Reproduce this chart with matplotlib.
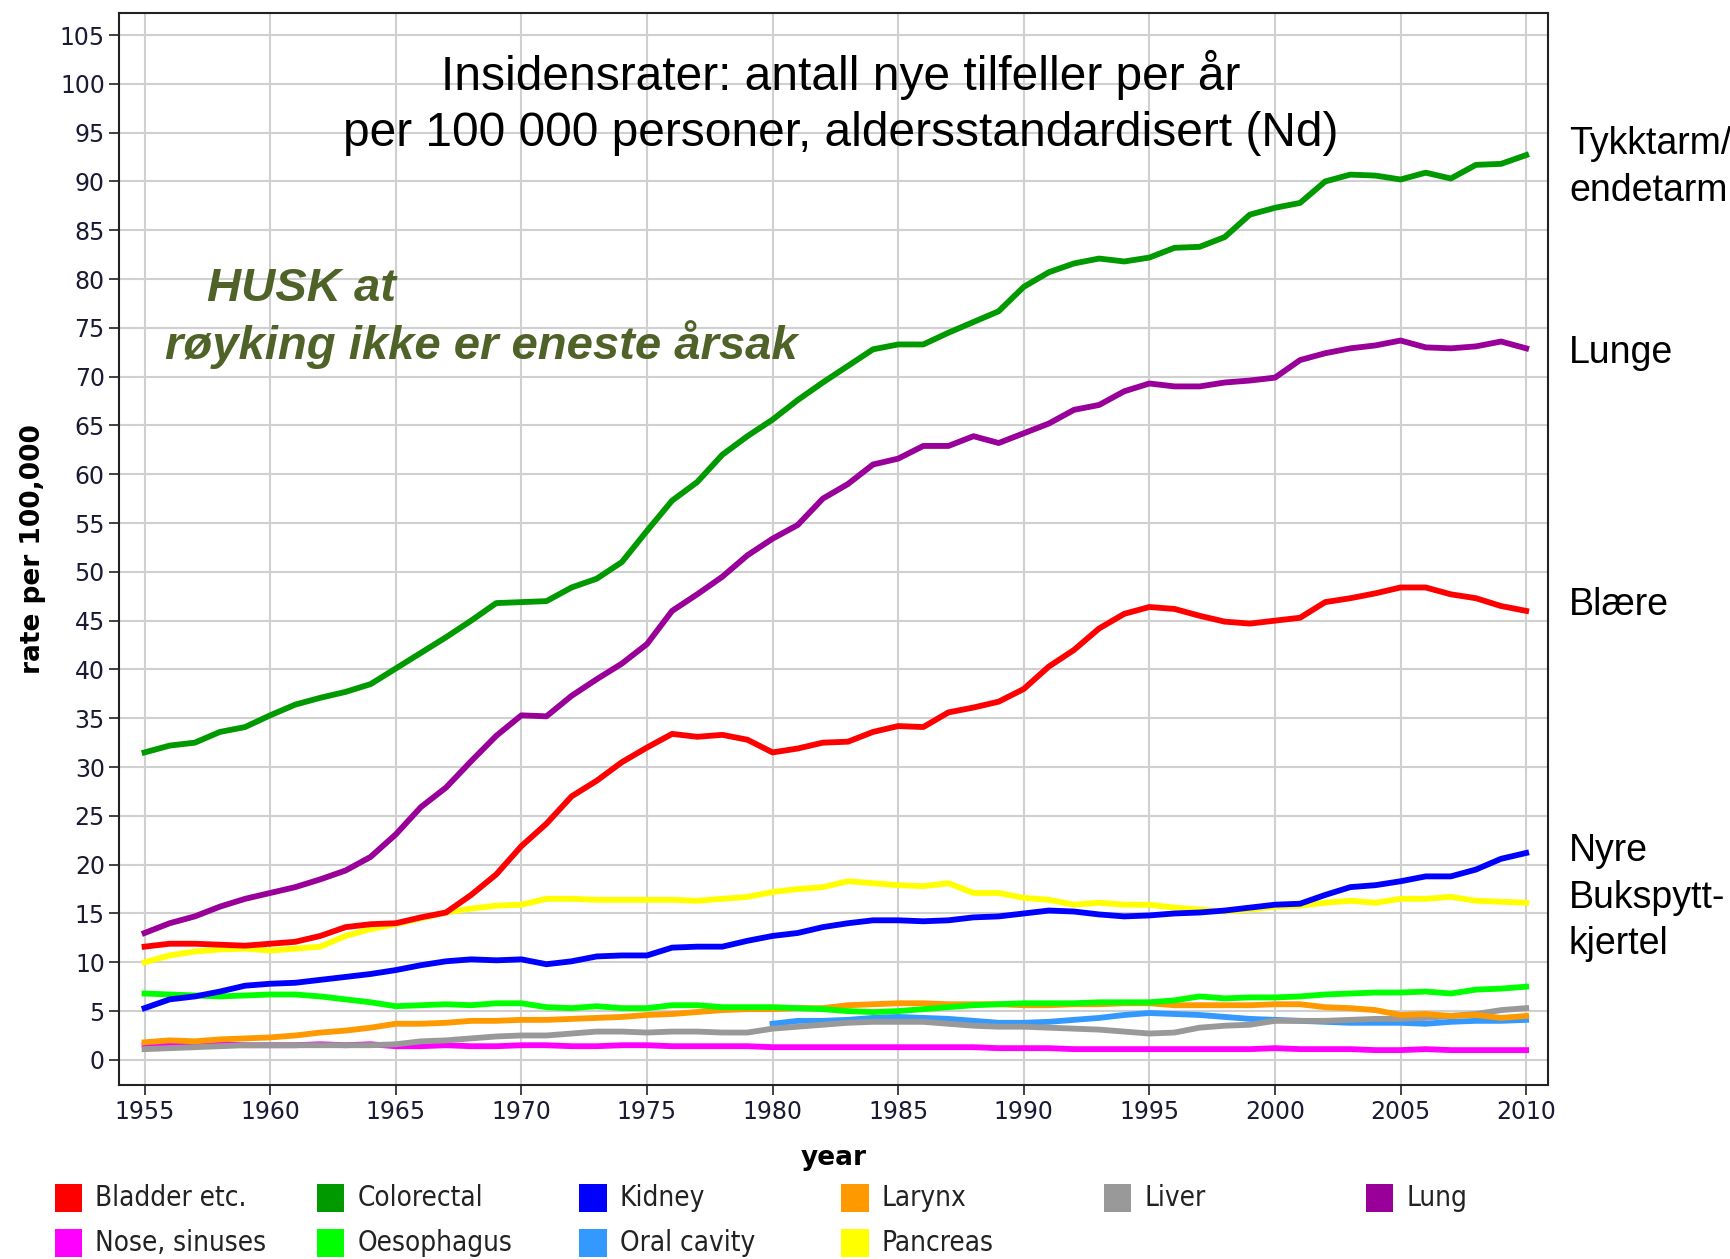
import matplotlib
matplotlib.use("Agg")
import matplotlib.pyplot as plt
from matplotlib.patches import Rectangle
import numpy as np

years = list(range(1955, 2011))

bladder = [11.6, 11.9, 11.9, 11.8, 11.7, 11.9, 12.1, 12.7, 13.6, 13.9, 14.0, 14.6, 15.1, 16.9, 19.0,
           21.9, 24.2, 27.0, 28.6, 30.5, 32.0, 33.4, 33.1, 33.3, 32.8, 31.5, 31.9, 32.5, 32.6, 33.6,
           34.2, 34.1, 35.6, 36.1, 36.7, 38.0, 40.3, 42.0, 44.2, 45.7, 46.4, 46.2, 45.5, 44.9, 44.7,
           45.0, 45.3, 46.9, 47.3, 47.8, 48.4, 48.4, 47.7, 47.3, 46.5, 46.0]
colorectal = [31.5, 32.2, 32.5, 33.6, 34.1, 35.3, 36.4, 37.1, 37.7, 38.5, 40.1, 41.7, 43.3, 45.0, 46.8,
              46.9, 47.0, 48.4, 49.3, 51.0, 54.2, 57.3, 59.2, 62.0, 63.9, 65.6, 67.6, 69.4, 71.1, 72.8,
              73.3, 73.3, 74.5, 75.6, 76.7, 79.2, 80.7, 81.6, 82.1, 81.8, 82.2, 83.2, 83.3, 84.3, 86.6,
              87.3, 87.8, 90.0, 90.7, 90.6, 90.2, 90.9, 90.3, 91.7, 91.8, 92.7]
kidney = [5.3, 6.2, 6.5, 7.0, 7.6, 7.8, 7.9, 8.2, 8.5, 8.8, 9.2, 9.7, 10.1, 10.3, 10.2,
          10.3, 9.8, 10.1, 10.6, 10.7, 10.7, 11.5, 11.6, 11.6, 12.2, 12.7, 13.0, 13.6, 14.0, 14.3,
          14.3, 14.2, 14.3, 14.6, 14.7, 15.0, 15.3, 15.2, 14.9, 14.7, 14.8, 15.0, 15.1, 15.3, 15.6,
          15.9, 16.0, 16.9, 17.7, 17.9, 18.3, 18.8, 18.8, 19.5, 20.6, 21.2]
larynx = [1.8, 2.0, 1.9, 2.1, 2.2, 2.3, 2.5, 2.8, 3.0, 3.3, 3.7, 3.7, 3.8, 4.0, 4.0,
          4.1, 4.1, 4.2, 4.3, 4.4, 4.6, 4.7, 4.9, 5.1, 5.2, 5.2, 5.3, 5.3, 5.6, 5.7,
          5.8, 5.8, 5.7, 5.7, 5.7, 5.6, 5.6, 5.7, 5.7, 5.8, 5.8, 5.6, 5.6, 5.6, 5.6,
          5.7, 5.7, 5.4, 5.3, 5.1, 4.6, 4.7, 4.5, 4.6, 4.3, 4.5]
liver = [1.1, 1.2, 1.3, 1.4, 1.5, 1.5, 1.5, 1.5, 1.5, 1.5, 1.6, 1.9, 2.0, 2.2, 2.4,
         2.5, 2.5, 2.7, 2.9, 2.9, 2.8, 2.9, 2.9, 2.8, 2.8, 3.2, 3.4, 3.6, 3.8, 3.9,
         3.9, 3.9, 3.7, 3.5, 3.4, 3.4, 3.3, 3.2, 3.1, 2.9, 2.7, 2.8, 3.3, 3.5, 3.6,
         4.0, 4.0, 4.0, 4.1, 4.2, 4.2, 4.3, 4.5, 4.7, 5.1, 5.3]
lung = [13.0, 14.0, 14.7, 15.7, 16.5, 17.1, 17.7, 18.5, 19.4, 20.8, 23.1, 25.9, 27.9, 30.6, 33.2,
        35.3, 35.2, 37.3, 39.0, 40.6, 42.6, 46.0, 47.7, 49.5, 51.7, 53.4, 54.8, 57.5, 59.0, 61.0,
        61.6, 62.9, 62.9, 63.9, 63.2, 64.2, 65.2, 66.6, 67.1, 68.5, 69.3, 69.0, 69.0, 69.4, 69.6,
        69.9, 71.7, 72.4, 72.9, 73.2, 73.7, 73.0, 72.9, 73.1, 73.6, 72.9]
nose = [1.5, 1.6, 1.6, 1.6, 1.5, 1.5, 1.5, 1.6, 1.5, 1.6, 1.4, 1.4, 1.5, 1.4, 1.4,
        1.5, 1.5, 1.4, 1.4, 1.5, 1.5, 1.4, 1.4, 1.4, 1.4, 1.3, 1.3, 1.3, 1.3, 1.3,
        1.3, 1.3, 1.3, 1.3, 1.2, 1.2, 1.2, 1.1, 1.1, 1.1, 1.1, 1.1, 1.1, 1.1, 1.1,
        1.2, 1.1, 1.1, 1.1, 1.0, 1.0, 1.1, 1.0, 1.0, 1.0, 1.0]
oesophagus = [6.8, 6.7, 6.6, 6.5, 6.6, 6.7, 6.7, 6.5, 6.2, 5.9, 5.5, 5.6, 5.7, 5.6, 5.8,
              5.8, 5.4, 5.3, 5.5, 5.3, 5.3, 5.6, 5.6, 5.4, 5.4, 5.4, 5.3, 5.2, 5.0, 4.9,
              5.0, 5.2, 5.4, 5.6, 5.7, 5.8, 5.8, 5.8, 5.9, 5.9, 5.9, 6.1, 6.5, 6.3, 6.4,
              6.4, 6.5, 6.7, 6.8, 6.9, 6.9, 7.0, 6.8, 7.2, 7.3, 7.5]
oral_years = list(range(1980, 2011))
oral = [3.7, 4.0, 4.0, 4.1, 4.3, 4.4, 4.3, 4.2, 4.0, 3.8, 3.8, 3.9, 4.1, 4.3, 4.6,
        4.8, 4.7, 4.6, 4.4, 4.2, 4.1, 4.0, 3.9, 3.8, 3.8, 3.8, 3.7, 3.9, 4.0, 4.0, 4.1]
pancreas = [10.0, 10.7, 11.1, 11.3, 11.4, 11.2, 11.4, 11.6, 12.7, 13.4, 13.9, 14.5, 15.1, 15.5, 15.8,
            15.9, 16.5, 16.5, 16.4, 16.4, 16.4, 16.4, 16.3, 16.5, 16.7, 17.2, 17.5, 17.7, 18.3, 18.1,
            17.9, 17.8, 18.1, 17.1, 17.1, 16.6, 16.4, 15.9, 16.1, 15.9, 15.9, 15.6, 15.4, 15.2, 15.4,
            15.7, 15.8, 16.1, 16.3, 16.1, 16.5, 16.5, 16.7, 16.3, 16.2, 16.1]

names = ["Bladder etc.", "Colorectal", "Kidney", "Larynx", "Liver", "Lung",
         "Nose, sinuses", "Oesophagus", "Oral cavity", "Pancreas"]
colors = ["#ff0000", "#009900", "#0000ff", "#ff9900", "#999999", "#990099",
          "#ff00ff", "#00ff00", "#3399ff", "#ffff00"]
series_x = [years, years, years, years, years, years, years, years, oral_years, years]
series_y = [bladder, colorectal, kidney, larynx, liver, lung, nose, oesophagus, oral, pancreas]

right_labels = ["Tykktarm/\nendetarm", "Lunge", "Blære", "Nyre\nBukspytt-\nkjertel"]
right_label_y = [91.4, 72.4, 46.6, 16.6]

plt.rcParams['font.family'] = ['Liberation Sans', 'DejaVu Sans']

fig = plt.figure(figsize=(17.31, 12.59), dpi=100)
ax = fig.add_axes([0.069, 0.138, 0.825, 0.852])

# draw order (back to front)
order = [8, 6, 4, 3, 7, 9, 2, 0, 5, 1]
for i in order:
    ax.plot(series_x[i], series_y[i], color=colors[i], lw=4.2, solid_joinstyle='round',
            zorder=3)

ax.set_xlim(1954.0, 2010.85)
ax.set_ylim(-2.6, 107.3)
ax.set_xticks(range(1955, 2011, 5))
ax.set_yticks(range(0, 106, 5))
ax.grid(True, color="#d0d0d0", lw=1.5, zorder=0)
ax.tick_params(axis='both', direction='out', length=7, width=1.2, labelsize=17,
               labelcolor="#1a1a33", color="#222222")
for lab in ax.get_xticklabels() + ax.get_yticklabels():
    lab.set_fontfamily('DejaVu Sans')
for s in ax.spines.values():
    s.set_linewidth(1.5)
    s.set_color("#222222")

ax.set_xlabel("year", fontsize=19, fontweight='bold', family='DejaVu Sans', labelpad=15)
ax.set_ylabel("rate per 100,000", fontsize=19, fontweight='bold', family='DejaVu Sans', labelpad=10)

ax.text(0.505, 0.965, "Insidensrater: antall nye tilfeller per år\nper 100 000 personer, aldersstandardisert (Nd)",
        transform=ax.transAxes, ha='center', va='top', fontsize=34.5, linespacing=1.3, zorder=5)
ax.text(0.061, 0.742, "HUSK at", transform=ax.transAxes, ha='left', va='center', fontsize=34,
        fontweight='bold', style='italic', color="#4f6228", zorder=5)
ax.text(0.032, 0.691, "røyking ikke er eneste årsak", transform=ax.transAxes, ha='left', va='center',
        fontsize=34, fontweight='bold', style='italic', color="#4f6228", zorder=5)

for lab, yv in zip(right_labels, right_label_y):
    ax.text(1.015, yv, lab, transform=ax.get_yaxis_transform(), ha='left', va='center',
            fontsize=27, linespacing=1.38, clip_on=False)

# legend below
x0, dx = 0.0315, 0.1515
y_rows = [1 - 1198 / 1259, 1 - 1243 / 1259]
for i, (nm, c) in enumerate(zip(names, colors)):
    col, row = i % 6, i // 6
    xx = x0 + col * dx
    yy = y_rows[row]
    fig.patches.append(Rectangle((xx, yy - 0.0115), 0.016, 0.023, transform=fig.transFigure,
                                 facecolor=c, edgecolor='none'))
    fig.text(xx + 0.0235, yy, nm, ha='left', va='center', fontsize=20, color="#222222",
             family='DejaVu Sans', fontstretch='condensed')

fig.savefig("out.png", dpi=100)
